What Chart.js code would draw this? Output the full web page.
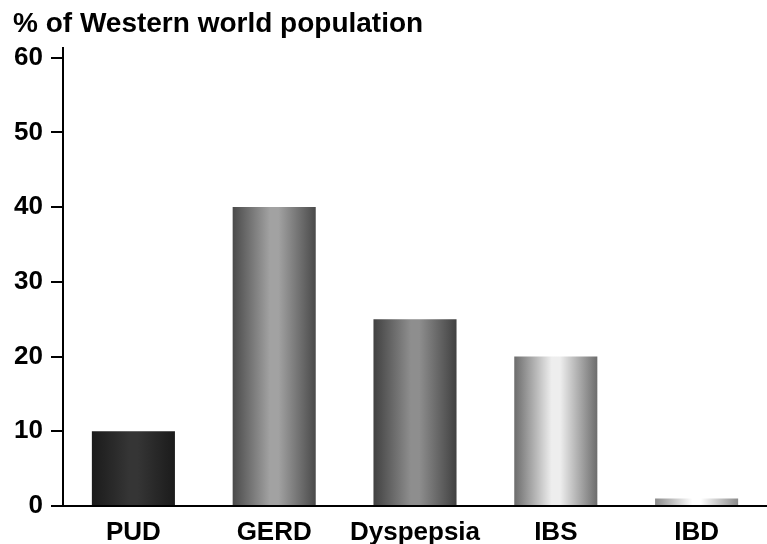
<!DOCTYPE html>
<html>
<head>
<meta charset="utf-8">
<script src="https://cdn.jsdelivr.net/npm/chart.js@4.4.1/dist/chart.umd.min.js"></script>
<style>
	html, body { margin: 0; padding: 0; background: #fff; }
	#wrap { width: 767px; height: 544px; position: relative; }
</style>
</head>
<body>
<div id="wrap"><canvas id="chart"></canvas></div>
<script>
const categories = ['PUD', 'GERD', 'Dyspepsia', 'IBS', 'IBD'];
const prevalence = [10, 40, 25, 20, 1];
const yTicks = [0, 10, 20, 30, 40, 50, 60];
// edge / highlight greys of each bar's cylinder shading
const edgeColors = ['#1b1b1b', '#4a4a4a', '#414141', '#6c6c6c', '#8a8a8a'];
const lightColors = ['#353535', '#a2a2a2', '#8e8e8e', '#eeeeee', '#ffffff'];

const FONT = { family: '"Liberation Sans", Arial, sans-serif', size: 26, weight: 'bold' };

function barFill(ctx){
	const chart = ctx.chart;
	const x = chart.scales.x;
	if(!x || !chart.chartArea) return edgeColors[ctx.dataIndex];
	const center = x.getPixelForValue(ctx.dataIndex);
	const half = (x.width / categories.length) * 0.59 / 2;
	const g = chart.ctx.createLinearGradient(center - half, 0, center + half, 0);
	const i = ctx.dataIndex;
	g.addColorStop(0, edgeColors[i]);
	g.addColorStop(0.45, lightColors[i]);
	g.addColorStop(0.55, lightColors[i]);
	g.addColorStop(1, edgeColors[i]);
	return g;
}

new Chart(document.getElementById('chart'), {
	type: 'bar',
	data: {
		labels: categories,
		datasets: [{
			data: prevalence,
			backgroundColor: barFill,
			borderWidth: 0,
			categoryPercentage: 1,
			barPercentage: 0.59
		}]
	},
	options: {
		responsive: true,
		maintainAspectRatio: false,
		animation: false,
		layout: { padding: { left: 13, right: 0, top: 0, bottom: -8 } },
		plugins: {
			legend: { display: false },
			tooltip: { enabled: false },
			title: {
				display: true,
				text: '% of Western world population',
				align: 'start',
				color: '#000',
				font: { ...FONT, size: 28 },
				padding: { top: 7, bottom: 7 }
			}
		},
		scales: {
			x: {
				grid: { display: false },
				border: { display: true, color: '#000', width: 2 },
				ticks: { color: '#000', font: { ...FONT, lineHeight: 1 }, padding: 6, maxRotation: 0 }
			},
			y: {
				min: 0,
				max: 61.34,
				afterBuildTicks: (scale) => { scale.ticks = yTicks.map(v => ({ value: v })); },
				afterFit: (scale) => { scale.width = 50; },
				grid: { drawOnChartArea: false, tickLength: 12, color: '#000', lineWidth: 2 },
				border: { display: true, color: '#000', width: 2 },
				ticks: { color: '#000', font: FONT, padding: 8 }
			}
		}
	}
});
</script>
</body>
</html>
